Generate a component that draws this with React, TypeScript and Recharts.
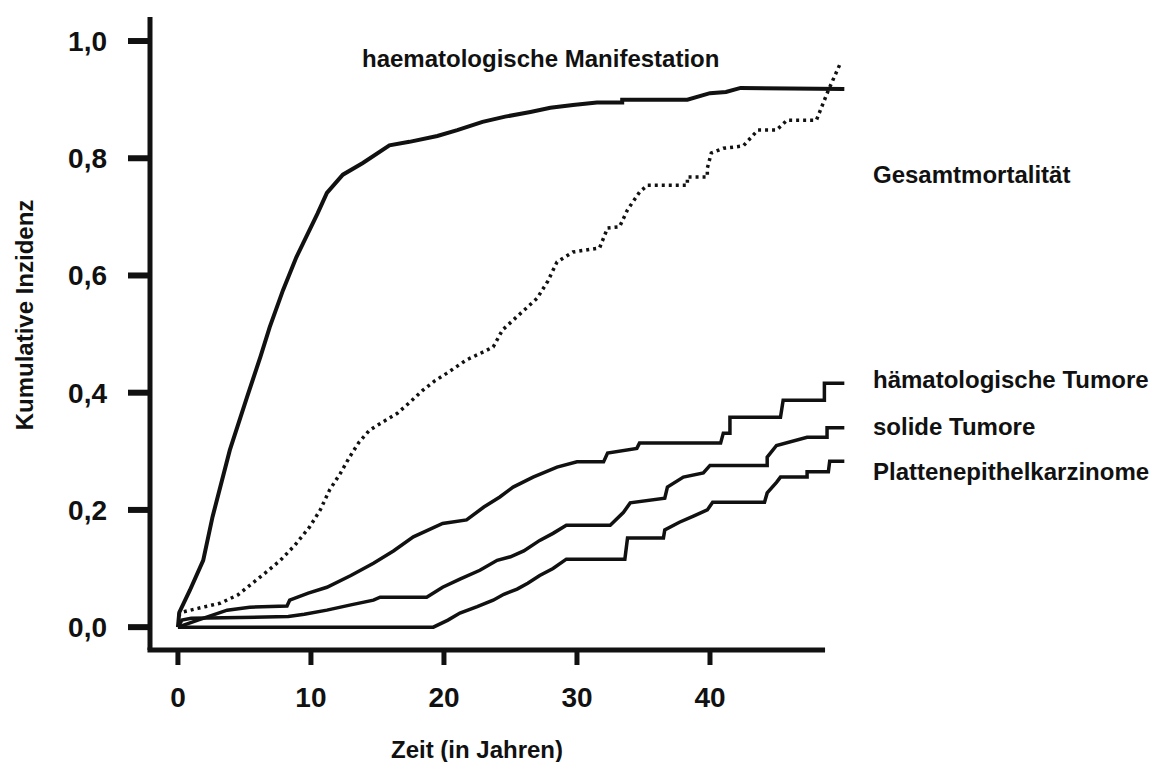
import React from 'react';
import { LineChart, Line, XAxis, YAxis, ReferenceLine } from 'recharts';

type Point = [number, number];

// Kumulative Inzidenz über die Zeit (Jahre), Kaplan-Meier-artige Verläufe
const haemManifestation: Point[] = [
  [0, 0], [0.1, 0.025], [0.9, 0.063], [1.9, 0.114], [2.6, 0.188], [3.9, 0.302],
  [5.2, 0.393], [6.2, 0.461], [6.9, 0.512], [7.9, 0.575], [8.9, 0.631], [10.5, 0.706],
  [11.2, 0.741], [12.4, 0.772], [13.9, 0.792], [15.9, 0.822], [17.4, 0.828], [19.5, 0.838],
  [21, 0.848], [22.9, 0.862], [24.6, 0.871], [26.5, 0.879], [28, 0.886], [29.7, 0.891],
  [31.5, 0.895], [33.4, 0.895], [33.4, 0.9], [38.3, 0.9], [40, 0.911], [41.2, 0.913],
  [42.3, 0.92], [50.1, 0.918],
];

const gesamtmortalitaet: Point[] = [
  [0, 0.02], [0.4, 0.026], [1.5, 0.032], [3.2, 0.041], [4.5, 0.055], [5.6, 0.075],
  [6.7, 0.095], [7.7, 0.114], [8.8, 0.14], [9.9, 0.171], [10.7, 0.2], [11.4, 0.234],
  [12.2, 0.262], [12.9, 0.29], [13.6, 0.315], [14.4, 0.336], [15.4, 0.35], [16.5, 0.365],
  [17.5, 0.385], [18.4, 0.404], [19.3, 0.42], [20.2, 0.433], [21.7, 0.456], [23, 0.47],
  [23.7, 0.478], [24.4, 0.507], [25.5, 0.53], [27, 0.561], [27.8, 0.59], [28.5, 0.623],
  [29.7, 0.64], [31.7, 0.647], [32.3, 0.681], [33.2, 0.683], [33.8, 0.712], [34.7, 0.742],
  [35.3, 0.754], [38.3, 0.754], [38.3, 0.768], [39.8, 0.768], [39.8, 0.783], [40.1, 0.809],
  [41, 0.817], [42.5, 0.821], [43.6, 0.848], [45, 0.848], [45.8, 0.865], [48, 0.865],
  [48.9, 0.916], [49.8, 0.962],
];

const haemTumore: Point[] = [
  [0, 0], [1.5, 0.012], [3.7, 0.029], [5.4, 0.034], [8.2, 0.036], [8.4, 0.046], [9.8, 0.058],
  [11.2, 0.068], [13, 0.088], [14.7, 0.109], [16.2, 0.13], [17.7, 0.154], [19.9, 0.177],
  [21.7, 0.183], [23, 0.205], [24.2, 0.222], [25.2, 0.239], [26.7, 0.256], [28.5, 0.273],
  [30, 0.282], [32, 0.282], [32.3, 0.297], [34.5, 0.305], [34.7, 0.314], [40.8, 0.314],
  [41, 0.331], [41.5, 0.331], [41.5, 0.358], [45.3, 0.358], [45.5, 0.387], [48.6, 0.387],
  [48.6, 0.416], [50.1, 0.416],
];

const solideTumore: Point[] = [
  [0, 0], [0.3, 0.012], [1, 0.015], [8.3, 0.018], [9.5, 0.022], [11.2, 0.029], [13, 0.038],
  [14.7, 0.046], [15.2, 0.051], [18.7, 0.051], [19.9, 0.068], [21.2, 0.082], [22.7, 0.097],
  [24, 0.114], [25, 0.12], [26, 0.13], [27.2, 0.148], [28.2, 0.16], [29.2, 0.174],
  [32.5, 0.174], [33.5, 0.196], [34, 0.212], [36.6, 0.22], [36.8, 0.239], [38, 0.256],
  [39.5, 0.263], [40, 0.276], [44.3, 0.276], [44.3, 0.29], [45, 0.31], [47.3, 0.324],
  [48.8, 0.324], [48.8, 0.34], [50.1, 0.34],
];

const plattenepithel: Point[] = [
  [0, 0], [19.2, 0], [20.3, 0.012], [21.2, 0.024], [22.5, 0.035], [23.7, 0.046],
  [24.5, 0.056], [25.5, 0.065], [26.3, 0.075], [27.2, 0.088], [28.2, 0.1], [29.2, 0.116],
  [33.6, 0.116], [33.8, 0.152], [36.5, 0.152], [36.6, 0.166], [37.7, 0.179], [38.8, 0.19],
  [39.8, 0.2], [40.2, 0.213], [44.1, 0.213], [44.3, 0.229], [45, 0.247], [45.3, 0.256],
  [47.3, 0.256], [47.3, 0.265], [48.9, 0.265], [49, 0.283], [50.1, 0.283],
];

const xTicks = [0, 10, 20, 30, 40];
const yTicks = [0, 0.2, 0.4, 0.6, 0.8, 1.0];

const toRows = (pts: Point[]) => pts.map(([t, v]) => ({ t, v }));

const font = '"Liberation Sans", Arial, Helvetica, sans-serif';
const ink = '#111';

const X_DOMAIN: [number, number] = [-2.1, 50.15];
const Y_DOMAIN: [number, number] = [-0.039, 1.041];

const labelStyle = { fontFamily: font, fontWeight: 700, fontSize: 24, fill: ink };

const App = () => (
  <div style={{ position: 'absolute', left: 0, top: 0, width: 1151, height: 762, background: '#fff' }}>
    <LineChart width={1151} height={762} margin={{ top: 17, right: 306, bottom: 50, left: 50 }}>
      <XAxis
        type="number"
        dataKey="t"
        domain={X_DOMAIN}
        allowDataOverflow
        ticks={xTicks}
        interval={0}
        axisLine={false}
        tickLine={{ stroke: ink, strokeWidth: 5 }}
        tickSize={15}
        tickMargin={22}
        height={62}
        tick={{ fill: ink, fontSize: 28, fontWeight: 700, fontFamily: font }}
      />
      <YAxis
        type="number"
        domain={Y_DOMAIN}
        allowDataOverflow
        ticks={yTicks}
        interval={0}
        width={100}
        axisLine={{ stroke: ink, strokeWidth: 5 }}
        tickLine={{ stroke: ink, strokeWidth: 6 }}
        tickSize={22}
        tickMargin={21}
        tickFormatter={(v: number) => v.toFixed(1).replace('.', ',')}
        tick={{ fill: ink, fontSize: 28, fontWeight: 700, fontFamily: font }}
      />
      {/* x-axis line stops short of the curve ends */}
      <ReferenceLine
        segment={[{ x: -2.29, y: Y_DOMAIN[0] }, { x: 48.65, y: Y_DOMAIN[0] }]}
        stroke={ink}
        strokeWidth={5}
        ifOverflow="visible"
      />
      <Line data={toRows(haemManifestation)} dataKey="v" type="linear" stroke={ink} strokeWidth={4} dot={false} isAnimationActive={false} />
      <Line data={toRows(gesamtmortalitaet)} dataKey="v" type="linear" stroke={ink} strokeWidth={3.5} strokeDasharray="3 4" dot={false} isAnimationActive={false} />
      <Line data={toRows(haemTumore)} dataKey="v" type="linear" stroke={ink} strokeWidth={3.5} dot={false} isAnimationActive={false} />
      <Line data={toRows(solideTumore)} dataKey="v" type="linear" stroke={ink} strokeWidth={3.5} dot={false} isAnimationActive={false} />
      <Line data={toRows(plattenepithel)} dataKey="v" type="linear" stroke={ink} strokeWidth={3.5} dot={false} isAnimationActive={false} />
    </LineChart>
    <svg width={1151} height={762} style={{ position: 'absolute', left: 0, top: 0, pointerEvents: 'none' }}>
      <text transform="translate(33,315) rotate(-90)" textAnchor="middle" style={labelStyle}>Kumulative Inzidenz</text>
      <text x={477} y={758} textAnchor="middle" style={labelStyle}>Zeit (in Jahren)</text>
      <text x={362} y={67} style={labelStyle}>haematologische Manifestation</text>
      <text x={873} y={183} style={labelStyle}>Gesamtmortalität</text>
      <text x={873} y={388} style={labelStyle}>hämatologische Tumore</text>
      <text x={873} y={435} style={labelStyle}>solide Tumore</text>
      <text x={873} y={480} style={labelStyle}>Plattenepithelkarzinome</text>
    </svg>
  </div>
);

export default App;
